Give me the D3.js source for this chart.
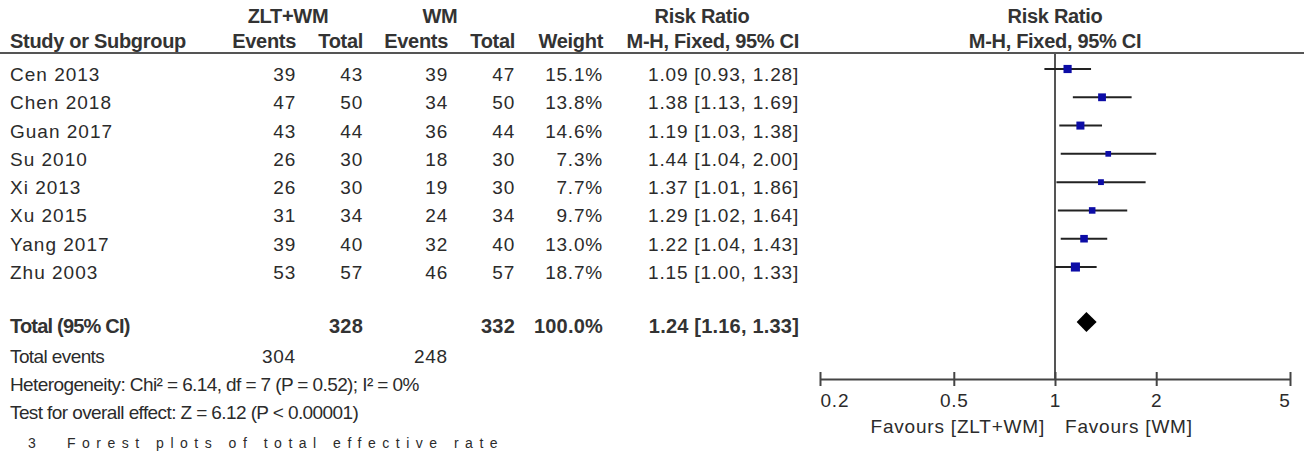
<!DOCTYPE html>
<html>
<head>
<meta charset="utf-8">
<script src="https://cdn.jsdelivr.net/npm/d3@7"></script>
<style>
  body { margin: 0; background: #fff; }
  svg { font-family: "Liberation Sans", Arial, sans-serif; }
  .txt { font-size: 19px; fill: #2b2b2b; letter-spacing: -0.6px; }
  .num { font-size: 19px; fill: #2b2b2b; letter-spacing: 0.8px; }
  .study { font-size: 19px; fill: #2b2b2b; letter-spacing: 1px; }
  .hdr { font-size: 20px; font-weight: bold; fill: #333; letter-spacing: -0.3px; }
  .bnum { font-size: 20px; font-weight: bold; fill: #333; letter-spacing: 0.2px; }
</style>
</head>
<body>
<svg id="chart"></svg>
<script>
// study data
const studies = ["Cen 2013", "Chen 2018", "Guan 2017", "Su 2010", "Xi 2013", "Xu 2015", "Yang 2017", "Zhu 2003"];
const zltEvents = [39, 47, 43, 26, 26, 31, 39, 53];
const zltTotal = [43, 50, 44, 30, 30, 34, 40, 57];
const wmEvents = [39, 34, 36, 18, 19, 24, 32, 46];
const wmTotal = [47, 50, 44, 30, 30, 34, 40, 57];
const weights = [15.1, 13.8, 14.6, 7.3, 7.7, 9.7, 13.0, 18.7];
const rr = [1.09, 1.38, 1.19, 1.44, 1.37, 1.29, 1.22, 1.15];
const rrLow = [0.93, 1.13, 1.03, 1.04, 1.01, 1.02, 1.04, 1.00];
const rrHigh = [1.28, 1.69, 1.38, 2.00, 1.86, 1.64, 1.43, 1.33];

// pooled
const totalN = [328, 332];
const totalEvents = [304, 248];
const totalWeight = 100.0;
const pooled = { est: 1.24, lo: 1.16, hi: 1.33 };
const hetText = "Heterogeneity: Chi\u00b2 = 6.14, df = 7 (P = 0.52); I\u00b2 = 0%";
const testText = "Test for overall effect: Z = 6.12 (P < 0.00001)";

const ticks = [0.2, 0.5, 1, 2, 5];
const favourLabels = ["Favours [ZLT+WM]", "Favours [WM]"];

const width = 1304, height = 453;
const svg = d3.select("#chart").attr("width", width).attr("height", height);

const x = d3.scaleLog().domain([0.2, 5]).range([820, 1290]);
const y = d3.scalePoint().domain(studies).range([69, 267]);
const fmt = d3.format(".2f");

// column right edges
const col = { ev1: 296, tot1: 363, ev2: 448, tot2: 515, wt: 603, ci: 799 };

// header
const hdrTop = [["ZLT+WM", 288], ["WM", 440], ["Risk Ratio", 702], ["Risk Ratio", 1055]];
svg.selectAll(".htop").data(hdrTop).enter().append("text")
  .attr("class", "hdr").attr("x", d => d[1]).attr("y", 23)
  .attr("text-anchor", "middle").text(d => d[0]);

const hdr2 = [["Events", col.ev1], ["Total", col.tot1], ["Events", col.ev2], ["Total", col.tot2],
  ["Weight", col.wt], ["M-H, Fixed, 95% CI", col.ci]];
svg.selectAll(".h2").data(hdr2).enter().append("text")
  .attr("class", "hdr").attr("x", d => d[1]).attr("y", 48)
  .attr("text-anchor", "end").text(d => d[0]);
svg.append("text").attr("class", "hdr").attr("x", 10).attr("y", 48).text("Study or Subgroup");
svg.append("text").attr("class", "hdr").attr("x", 1055).attr("y", 48)
  .attr("text-anchor", "middle").text("M-H, Fixed, 95% CI");

svg.append("line").attr("x1", 0).attr("x2", width).attr("y1", 53).attr("y2", 53)
  .attr("stroke", "#555").attr("stroke-width", 2);

// null line
svg.append("line").attr("x1", x(1)).attr("x2", x(1)).attr("y1", 53).attr("y2", 379)
  .attr("stroke", "#555").attr("stroke-width", 2);

// study rows
const rows = svg.selectAll(".row").data(studies).enter().append("g")
  .attr("transform", d => `translate(0,${y(d)})`);

rows.append("text").attr("class", "study").attr("x", 10).attr("y", 12).text(d => d);
const numCols = [[zltEvents, col.ev1], [zltTotal, col.tot1], [wmEvents, col.ev2], [wmTotal, col.tot2]];
numCols.forEach(([arr, cx]) => {
  rows.append("text").attr("class", "num").attr("x", cx).attr("y", 12)
    .attr("text-anchor", "end").text((d, i) => arr[i]);
});
rows.append("text").attr("class", "num").attr("x", col.wt).attr("y", 12)
  .attr("text-anchor", "end").text((d, i) => weights[i].toFixed(1) + "%");
rows.append("text").attr("class", "num").attr("x", col.ci).attr("y", 12)
  .attr("text-anchor", "end")
  .text((d, i) => `${fmt(rr[i])} [${fmt(rrLow[i])}, ${fmt(rrHigh[i])}]`);

// CI lines + squares
rows.append("line")
  .attr("x1", (d, i) => x(rrLow[i])).attr("x2", (d, i) => x(rrHigh[i]))
  .attr("y1", 0).attr("y2", 0).attr("stroke", "#222").attr("stroke-width", 2);
rows.append("rect")
  .each(function (d, i) {
    const s = 2.1 * Math.sqrt(weights[i]);
    d3.select(this).attr("x", x(rr[i]) - s / 2).attr("y", -s / 2).attr("width", s).attr("height", s);
  })
  .attr("fill", "#0c0ca6");

// total row
const totY = 322;
svg.append("text").attr("class", "hdr").attr("x", 10).attr("y", totY + 11)
  .style("letter-spacing", "-0.8px").text("Total (95% CI)");
svg.append("text").attr("class", "bnum").attr("x", col.tot1).attr("y", totY + 11)
  .attr("text-anchor", "end").text(totalN[0]);
svg.append("text").attr("class", "bnum").attr("x", col.tot2).attr("y", totY + 11)
  .attr("text-anchor", "end").text(totalN[1]);
svg.append("text").attr("class", "bnum").attr("x", col.wt).attr("y", totY + 11)
  .attr("text-anchor", "end").text(totalWeight.toFixed(1) + "%");
svg.append("text").attr("class", "bnum").attr("x", col.ci).attr("y", totY + 11)
  .attr("text-anchor", "end")
  .text(`${fmt(pooled.est)} [${fmt(pooled.lo)}, ${fmt(pooled.hi)}]`);

svg.append("path")
  .attr("d", `M${x(pooled.lo)},${totY} L${x(pooled.est)},${totY - 10} L${x(pooled.hi)},${totY} L${x(pooled.est)},${totY + 10} Z`)
  .attr("fill", "#000");

svg.append("text").attr("class", "txt").attr("x", 10).attr("y", 363).text("Total events");
svg.append("text").attr("class", "num").attr("x", col.ev1).attr("y", 363)
  .attr("text-anchor", "end").text(totalEvents[0]);
svg.append("text").attr("class", "num").attr("x", col.ev2).attr("y", 363)
  .attr("text-anchor", "end").text(totalEvents[1]);
svg.append("text").attr("class", "txt").attr("x", 10).attr("y", 391).text(hetText);
svg.append("text").attr("class", "txt").attr("x", 10).attr("y", 419).text(testText);

// axis
const axisG = svg.append("g").attr("transform", "translate(0,379)")
  .call(d3.axisBottom(x).tickValues(ticks).tickSizeOuter(0).tickFormat(d => String(d)));
axisG.attr("font-size", null).attr("font-family", null);
axisG.select(".domain").attr("stroke", "#444").attr("stroke-width", 2);
axisG.selectAll(".tick line").attr("y1", -7).attr("y2", 7).attr("stroke", "#444").attr("stroke-width", 2);
axisG.selectAll(".tick text")
  .attr("class", "num").attr("y", 28).attr("dy", null).attr("fill", "#444")
  .attr("text-anchor", (d, i) => i === 0 ? "start" : i === ticks.length - 1 ? "end" : "middle");

svg.append("text").attr("class", "num").attr("x", x(1) - 10).attr("y", 433)
  .attr("text-anchor", "end").attr("fill", "#444").text(favourLabels[0]);
svg.append("text").attr("class", "num").attr("x", x(1) + 10).attr("y", 433)
  .attr("fill", "#444").text(favourLabels[1]);

// caption at the bottom edge
svg.append("text").attr("class", "txt").attr("x", 28).attr("y", 448).style("font-size", "14px").text("3");
svg.append("text").attr("class", "txt").attr("x", 67).attr("y", 448).style("font-size", "14px")
  .attr("textLength", 430).attr("lengthAdjust", "spacing")
  .text("Forest plots of total effective rate");
</script>
</body>
</html>
